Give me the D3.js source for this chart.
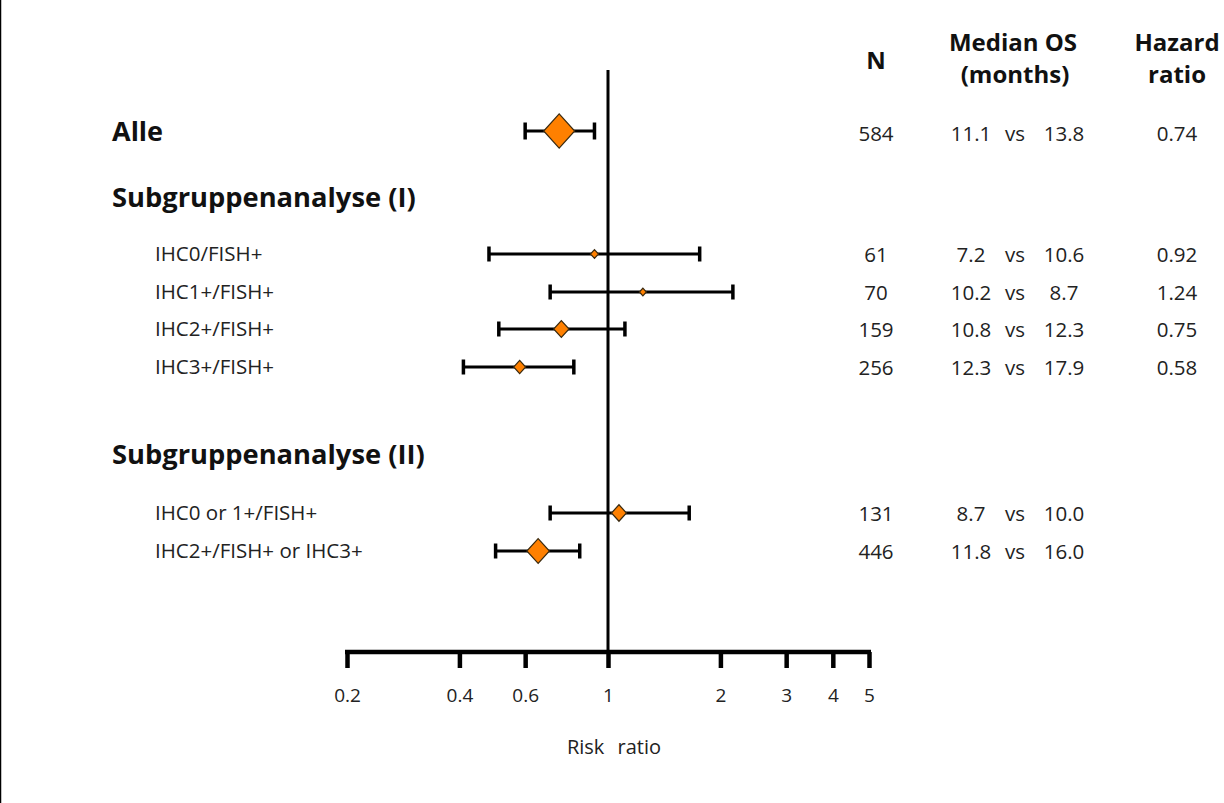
<!DOCTYPE html>
<html><head><meta charset="utf-8">
<script src="https://cdn.jsdelivr.net/npm/d3@7"></script>
<style>
html,body{margin:0;padding:0;background:#fff;}
svg{display:block;}
</style></head>
<body>
<script>
// ---- data ----
const rowLabels = ["Alle","IHC0/FISH+","IHC1+/FISH+","IHC2+/FISH+","IHC3+/FISH+","IHC0 or 1+/FISH+","IHC2+/FISH+ or IHC3+"];
const pointEst = [0.74, 0.92, 1.24, 0.75, 0.58, 1.07, 0.65];
const ciLower  = [0.60, 0.48, 0.70, 0.51, 0.41, 0.70, 0.50];
const ciUpper  = [0.92, 1.76, 2.16, 1.11, 0.81, 1.65, 0.84];
const weights  = [15.5, 4, 3.5, 7.7, 6, 7.5, 11.3];
const nValues  = ["584","61","70","159","256","131","446"];
const osArm1   = ["11.1","7.2","10.2","10.8","12.3","8.7","11.8"];
const osArm2   = ["13.8","10.6","8.7","12.3","17.9","10.0","16.0"];
const hazard   = ["0.74","0.92","1.24","0.75","0.58","",""];
const tickValues = [0.2, 0.4, 0.6, 1, 2, 3, 4, 5];
const sectionHeaders = ["Subgruppenanalyse (I)","Subgruppenanalyse (II)"];

const W = 1224, H = 803;
const svg = d3.select("body").append("svg").attr("width", W).attr("height", H);
const font = "'Open Sans', Lato, sans-serif";

// left border
svg.append("line").attr("x1",0.5).attr("x2",0.5).attr("y1",0).attr("y2",H).attr("stroke","#000").attr("stroke-width",1.5);

const x = d3.scaleLog().domain([0.2, 5]).range([347, 869]);
const rowY = [131, 254, 292, 329, 367, 513, 551];
const sectionY = [198, 455];

// reference line at 1
svg.append("line").attr("x1", x(1)).attr("x2", x(1)).attr("y1", 70).attr("y2", 652)
  .attr("stroke","#000").attr("stroke-width",3);

// axis
const axisG = svg.append("g").attr("transform","translate(0,652)");
const axis = d3.axisBottom(x).tickValues(tickValues).tickFormat(d => String(d)).tickSizeOuter(0).tickSizeInner(16);
axisG.call(axis);
axisG.select(".domain").attr("stroke","#000").attr("stroke-width",4.5)
  .attr("d", `M${x(0.2)-2},0H${x(5)+2}`);
axisG.selectAll(".tick line").attr("stroke","#000").attr("stroke-width",4.5);
axisG.selectAll(".tick text").attr("y", 37).attr("font-family", font).attr("font-size", 19).attr("fill","#222");

svg.append("text").attr("x", x(1) + 6).attr("y", 754).attr("text-anchor","middle")
  .attr("font-family", font).attr("font-size", 20).attr("fill","#222").attr("word-spacing", 8).text("Risk ratio");

// headers
const hdr = svg.append("g").attr("font-family", font).attr("font-weight","bold").attr("font-size",24).attr("fill","#111").attr("text-anchor","middle");
hdr.append("text").attr("x",876).attr("y",69).text("N");
hdr.append("text").attr("x",1013).attr("y",51).text("Median OS");
hdr.append("text").attr("x",1015).attr("y",83).text("(months)");
hdr.append("text").attr("x",1177).attr("y",51).text("Hazard");
hdr.append("text").attr("x",1177).attr("y",83).text("ratio");

// row labels
rowLabels.forEach((lab, i) => {
  const bold = i === 0;
  svg.append("text").attr("x", bold ? 112 : 155).attr("y", rowY[i] + (bold ? 10 : 7))
    .attr("font-family", font).attr("font-weight", bold ? "bold" : "normal")
    .attr("font-size", bold ? 27 : 20.5).attr("fill", bold ? "#111" : "#222").text(lab);
});
sectionHeaders.forEach((s, i) => {
  svg.append("text").attr("x", 112).attr("y", sectionY[i] + 9)
    .attr("font-family", font).attr("font-weight","bold").attr("font-size",27.3).attr("fill","#111").text(s);
});

// error bars & diamonds
rowLabels.forEach((lab, i) => {
  const y = rowY[i];
  const capH = i === 0 ? 8.5 : 7.5;
  const g = svg.append("g");
  g.append("line").attr("x1", x(ciLower[i])).attr("x2", x(ciUpper[i])).attr("y1", y).attr("y2", y)
    .attr("stroke","#000").attr("stroke-width",3);
  [ciLower[i], ciUpper[i]].forEach(v => {
    g.append("line").attr("x1", x(v)).attr("x2", x(v)).attr("y1", y - capH).attr("y2", y + capH)
      .attr("stroke","#000").attr("stroke-width",3.5);
  });
  const s = weights[i];
  const cx = x(pointEst[i]);
  g.append("path").attr("d", `M${cx},${y - s*1.1}L${cx + s},${y}L${cx},${y + s*1.1}L${cx - s},${y}Z`)
    .attr("fill","#ff8000").attr("stroke","#3a2a10").attr("stroke-width",1.2);
});

// value columns
const vals = svg.append("g").attr("font-family", font).attr("font-size",20.5).attr("fill","#222").attr("text-anchor","middle");
rowLabels.forEach((lab, i) => {
  const y = rowY[i] + (i === 0 ? 10 : 8);
  vals.append("text").attr("x",876).attr("y",y).text(nValues[i]);
  vals.append("text").attr("x",971).attr("y",y).text(osArm1[i]);
  vals.append("text").attr("x",1015).attr("y",y).text("vs");
  vals.append("text").attr("x",1064).attr("y",y).text(osArm2[i]);
  if (hazard[i]) vals.append("text").attr("x",1177).attr("y",y).text(hazard[i]);
});
</script>
</body></html>
